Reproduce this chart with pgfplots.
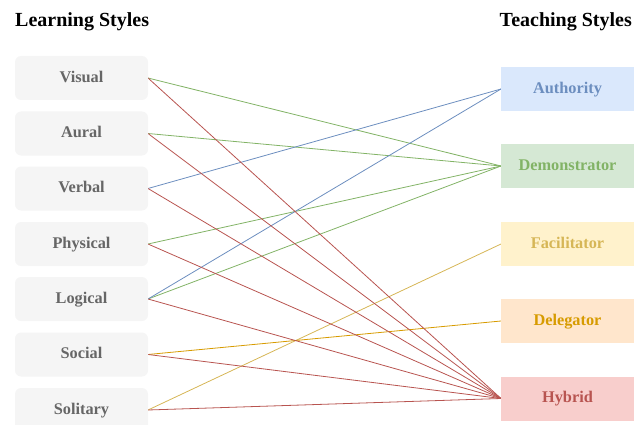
\documentclass[border=0pt]{standalone}
\usepackage{fontspec}
\setmainfont{Liberation Serif}
\usepackage{pgfplots}
\pgfplotsset{compat=1.18}

\definecolor{lsfill}{HTML}{F5F5F5}
\definecolor{lstext}{HTML}{666666}
\definecolor{cblue}{HTML}{6C8EBF}
\definecolor{cgreen}{HTML}{82B366}
\definecolor{cyellow}{HTML}{D6B656}
\definecolor{corange}{HTML}{D79B00}
\definecolor{cred}{HTML}{B85450}
\definecolor{fblue}{HTML}{DAE8FC}
\definecolor{fgreen}{HTML}{D5E8D4}
\definecolor{fyellow}{HTML}{FFF2CC}
\definecolor{forange}{HTML}{FFE6CC}
\definecolor{fred}{HTML}{F8CECC}

\tikzset{
  boxlabel/.style={font=\fontsize{16.3}{18}\selectfont\bfseries, anchor=center,
                   minimum width=133pt, minimum height=44pt, inner sep=0pt,
                   text height=1.95ex, text depth=0pt},
  link/.style={line width=0.8pt, mark=none},
}

\begin{document}
\begin{tikzpicture}
\begin{axis}[
  scale only axis, width=634pt, height=425pt,
  xmin=0, xmax=634, ymin=0, ymax=425, y dir=reverse,
  hide axis, clip=false,
]
% learning style boxes
\addplot[draw=none, mark=none, nodes near coords, point meta=explicit symbolic,
  every node near coord/.style={boxlabel, fill=lsfill, text=lstext, rounded corners=6pt}]
  coordinates {
  (81.5,78)[Visual] (81.5,133.5)[Aural] (81.5,188.5)[Verbal]
  (81.5,244)[Physical] (81.5,299)[Logical] (81.5,354.5)[Social]
  (81.5,410)[Solitary]
};
% teaching style boxes
\addplot[draw=none, mark=none, nodes near coords, point meta=explicit symbolic,
  every node near coord/.style={boxlabel, fill=fblue, text=cblue}]
  coordinates {(567.5,89)[Authority]};
\addplot[draw=none, mark=none, nodes near coords, point meta=explicit symbolic,
  every node near coord/.style={boxlabel, fill=fgreen, text=cgreen}]
  coordinates {(567.5,166)[Demonstrator]};
\addplot[draw=none, mark=none, nodes near coords, point meta=explicit symbolic,
  every node near coord/.style={boxlabel, fill=fyellow, text=cyellow}]
  coordinates {(567.5,244)[Facilitator]};
\addplot[draw=none, mark=none, nodes near coords, point meta=explicit symbolic,
  every node near coord/.style={boxlabel, fill=forange, text=corange}]
  coordinates {(567.5,321)[Delegator]};
\addplot[draw=none, mark=none, nodes near coords, point meta=explicit symbolic,
  every node near coord/.style={boxlabel, fill=fred, text=cred}]
  coordinates {(567.5,398.5)[Hybrid]};

% links to Demonstrator
\addplot[link, cgreen] coordinates {(148,78)(501,166)};
\addplot[link, cgreen] coordinates {(148,133.5)(501,166)};
\addplot[link, cgreen] coordinates {(148,244)(501,166)};
\addplot[link, cgreen] coordinates {(148,299)(501,166)};
% links to Authority
\addplot[link, cblue] coordinates {(148,188.5)(501,89)};
\addplot[link, cblue] coordinates {(148,299)(501,89)};
% Facilitator, Delegator
\addplot[link, cyellow] coordinates {(148,410)(501,244)};
\addplot[link, corange] coordinates {(148,354.5)(501,321)};
% links to Hybrid
\addplot[link, cred] coordinates {(148,78)(501,398.5)};
\addplot[link, cred] coordinates {(148,133.5)(501,398.5)};
\addplot[link, cred] coordinates {(148,188.5)(501,398.5)};
\addplot[link, cred] coordinates {(148,244)(501,398.5)};
\addplot[link, cred] coordinates {(148,299)(501,398.5)};
\addplot[link, cred] coordinates {(148,354.5)(501,398.5)};
\addplot[link, cred] coordinates {(148,410)(501,398.5)};

% column titles
\node[anchor=west, inner sep=0pt, font=\fontsize{20}{22}\selectfont\bfseries]
  at (axis cs:15,22) {Learning Styles};
\node[anchor=east, inner sep=0pt, font=\fontsize{20}{22}\selectfont\bfseries]
  at (axis cs:632,22) {Teaching Styles};
\end{axis}
\pgfresetboundingbox
\useasboundingbox (0,0) rectangle (634pt,425pt);
\end{tikzpicture}
\end{document}
